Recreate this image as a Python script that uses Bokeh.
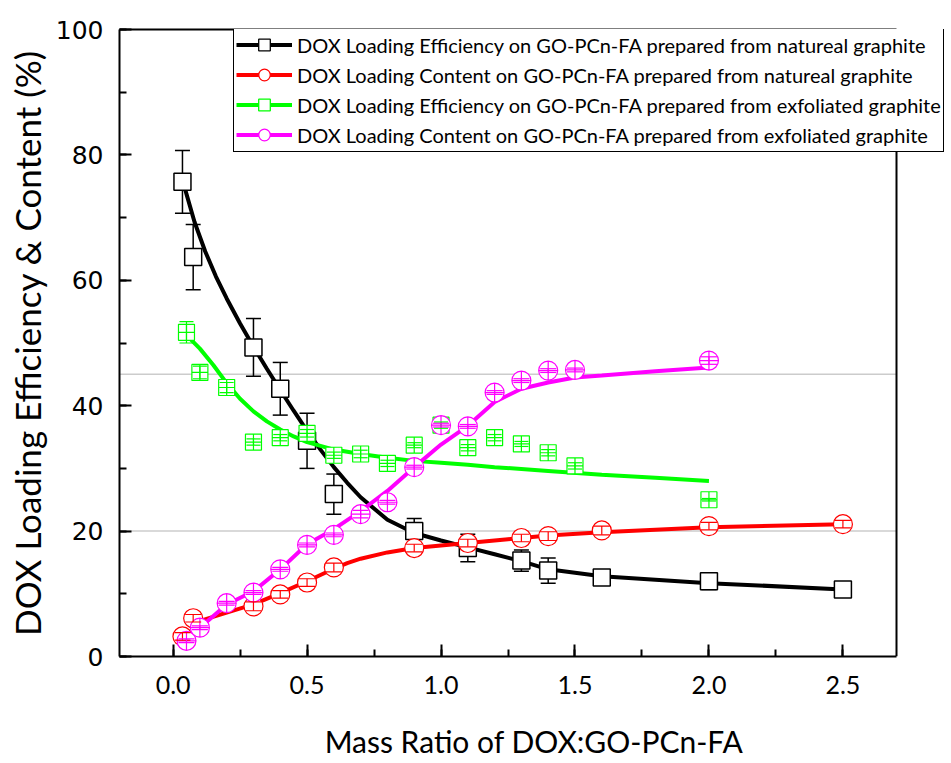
from bokeh.plotting import figure
from bokeh.models import (Range1d, Whisker, TeeHead, ColumnDataSource, Legend, Span,
                          LegendItem, SingleIntervalTicker, NumeralTickFormatter,
                          LinearAxis, FixedTicker)
from bokeh.embed import file_html
from bokeh.resources import INLINE

# ---------------- data ----------------
# DOX loading efficiency, natural graphite (black squares)
ne_x = [0.035, 0.075, 0.3, 0.4, 0.5, 0.6, 0.9, 1.1, 1.3, 1.4, 1.6, 2.0, 2.5]
ne_y = [75.7, 63.7, 49.3, 42.7, 34.4, 25.9, 20.0, 17.3, 15.3, 13.7, 12.6, 12.0, 10.7]
ne_err = [5.0, 5.2, 4.6, 4.2, 4.4, 3.2, 2.0, 2.2, 1.7, 2.0, 0.7, 1.3, 1.2]
ne_fit_x = [0.045, 0.08, 0.12, 0.16, 0.2, 0.25, 0.3, 0.35, 0.4, 0.45, 0.5, 0.55, 0.6,
            0.65, 0.7, 0.8, 0.9, 1.0, 1.1, 1.2, 1.3, 1.4, 1.6, 2.0, 2.5]
ne_fit_y = [74.5, 69.3, 64.6, 60.6, 57.1, 53.1, 49.4, 45.9, 42.5, 39.2, 36.0, 33.0, 30.2,
            27.7, 25.4, 21.8, 19.7, 18.5, 17.4, 16.3, 15.2, 13.9, 12.8, 11.7, 10.7]

# DOX loading content, natural graphite (red circles)
nc_x = [0.035, 0.075, 0.3, 0.4, 0.5, 0.6, 0.9, 1.1, 1.3, 1.4, 1.6, 2.0, 2.5]
nc_y = [3.2, 6.1, 8.0, 9.9, 11.8, 14.2, 17.3, 18.1, 18.9, 19.2, 20.1, 20.8, 21.1]
nc_err = [0.6, 0.6, 0.7, 0.6, 0.6, 0.7, 0.6, 0.6, 0.6, 0.7, 0.7, 0.6, 0.6]
nc_fit_x = [0.08, 0.2, 0.3, 0.4, 0.5, 0.6, 0.65, 0.7, 0.8, 0.9, 1.1, 1.25, 1.4, 1.6,
            2.0, 2.5]
nc_fit_y = [5.4, 7.0, 8.3, 10.1, 12.0, 14.0, 14.9, 15.6, 16.6, 17.3, 18.1, 18.7, 19.3,
            19.8, 20.6, 21.1]

# DOX loading efficiency, exfoliated graphite (green squares)
ee_x = [0.05, 0.1, 0.2, 0.3, 0.4, 0.5, 0.6, 0.7, 0.8, 0.9, 1.0, 1.1, 1.2, 1.3, 1.4, 1.5, 2.0]
ee_y = [51.7, 45.3, 42.9, 34.2, 34.9, 35.6, 32.1, 32.3, 30.8, 33.7, 36.9, 33.3, 34.9,
        33.9, 32.5, 30.4, 25.0]
ee_err = [1.7, 1.0, 0.8, 0.5, 0.5, 0.6, 0.5, 0.6, 0.5, 0.4, 0.5, 0.5, 0.5, 0.4, 0.5, 0.5, 0.2]
ee_fit_x = [0.063, 0.1, 0.15, 0.2, 0.25, 0.3, 0.35, 0.4, 0.45, 0.5, 0.6, 0.7, 0.8, 0.9,
            1.0, 1.1, 1.2, 1.4, 1.6, 1.8, 2.0]
ee_fit_y = [50.7, 49.1, 46.5, 43.6, 41.1, 39.1, 37.5, 36.2, 35.1, 34.2, 33.0, 32.3, 31.7,
            31.2, 30.9, 30.6, 30.2, 29.6, 29.0, 28.5, 28.0]

# DOX loading content, exfoliated graphite (magenta circles)
ec_x = [0.05, 0.1, 0.2, 0.3, 0.4, 0.5, 0.6, 0.7, 0.8, 0.9, 1.0, 1.1, 1.2, 1.3, 1.4, 1.5, 2.0]
ec_y = [2.5, 4.6, 8.5, 10.2, 13.9, 17.8, 19.4, 22.7, 24.6, 30.2, 36.9, 36.7, 42.1,
        44.0, 45.6, 45.7, 47.2]
ec_err = [0.3, 0.3, 0.3, 0.3, 0.3, 0.3, 0.3, 0.6, 0.3, 0.3, 0.3, 0.3, 0.3, 0.3, 0.3, 0.3, 0.6]
ec_fit_x = [0.1, 0.2, 0.3, 0.4, 0.5, 0.6, 0.7, 0.8, 0.9, 1.0, 1.1, 1.2, 1.3, 1.4, 1.5,
            1.6, 1.8, 2.0]
ec_fit_y = [4.6, 8.3, 10.4, 13.9, 17.9, 20.3, 23.2, 26.4, 30.2, 33.8, 36.8, 40.6, 42.7,
            43.7, 44.5, 44.8, 45.5, 46.1]

ref_lines = [20, 45]

labels = [
    "DOX Loading Efficiency on GO-PCn-FA prepared from natureal graphite",
    "DOX Loading Content on GO-PCn-FA prepared from natureal graphite",
    "DOX Loading Efficiency on GO-PCn-FA prepared from exfoliated graphite",
    "DOX Loading Content on GO-PCn-FA prepared from exfoliated graphite",
]
x_title = "Mass Ratio of DOX:GO-PCn-FA"
y_title = "DOX Loading Efficiency & Content (%)"

# ---------------- layout ----------------
X_LO, X_HI = -0.2, 2.7          # visible axis box
Y_LO, Y_HI = 0, 100
BOX_W, BOX_H = 777, 627          # pixel size of the axis box
LEFT, TOP = 119, 29
CANVAS_W, CANVAS_H = 948, 760
FRAME_W = CANVAS_W - LEFT        # frame extends right so the legend can overhang the box
x_end = X_LO + FRAME_W * (X_HI - X_LO) / BOX_W

p = figure(frame_width=FRAME_W, frame_height=BOX_H,
           min_border_left=LEFT, min_border_right=0, min_border_top=TOP,
           min_border_bottom=CANVAS_H - TOP - BOX_H,
           x_range=Range1d(X_LO, x_end), y_range=Range1d(Y_LO, Y_HI),
           output_backend="svg", toolbar_location=None)
p.grid.visible = False
p.outline_line_color = None
p.background_fill_color = "white"
p.border_fill_color = "white"

xa = p.xaxis[0]
ya = p.yaxis[0]
xa.ticker = SingleIntervalTicker(interval=0.5, num_minor_ticks=2)
ya.ticker = SingleIntervalTicker(interval=20, num_minor_ticks=2)
xa.formatter = NumeralTickFormatter(format="0.0")
xa.bounds = (X_LO, X_HI)
for ax in (xa, ya):
    ax.axis_line_width = 2
    ax.axis_line_color = "black"
    ax.major_tick_in = 12
    ax.major_tick_out = 0
    ax.minor_tick_in = 7
    ax.minor_tick_out = 0
    ax.major_tick_line_width = 2
    ax.minor_tick_line_width = 2
    ax.major_tick_line_color = "black"
    ax.minor_tick_line_color = "black"
    ax.major_label_text_color = "black"
    ax.axis_label_text_font = "Lato"
    ax.axis_label_text_font_style = "normal"
    ax.axis_label_text_color = "black"

xa.major_label_text_font = "Lato"
xa.major_label_text_font_size = "25px"
xa.major_label_standoff = 19
xa.axis_label = x_title
xa.axis_label_text_font_size = "30px"
xa.axis_label_standoff = 26

ya.major_label_text_font = "DejaVu Sans"
ya.major_label_text_font_size = "25px"
ya.major_label_standoff = 16
ya.axis_label = y_title
ya.axis_label_text_font_size = "35px"
ya.axis_label_standoff = 5

# top edge of the axis box
top_ax = LinearAxis(ticker=FixedTicker(ticks=[]), bounds=(X_LO, X_HI),
                    axis_line_width=2, axis_line_color="black",
                    major_tick_out=0, major_tick_in=0, minor_tick_out=0, minor_tick_in=0,
                    major_label_text_font_size="0px")
p.add_layout(top_ax, "above")
# right edge of the axis box
p.add_layout(Span(location=X_HI, dimension="height", line_color="black", line_width=2))

# light reference lines
p.segment(x0=[X_LO] * len(ref_lines), x1=[X_HI] * len(ref_lines), y0=ref_lines, y1=ref_lines,
          line_color="#cccccc", line_width=1.5, level="underlay")


def whisker(xs, ys, errs, color, cap, width, level):
    src = ColumnDataSource(dict(x=xs, lo=[a - b for a, b in zip(ys, errs)],
                                hi=[a + b for a, b in zip(ys, errs)]))
    w = Whisker(source=src, base="x", lower="lo", upper="hi", dimension="height",
                line_color=color, line_width=width, level=level,
                upper_head=TeeHead(size=cap, line_color=color, line_width=width),
                lower_head=TeeHead(size=cap, line_color=color, line_width=width))
    p.add_layout(w)


series = [
    (ne_x, ne_y, ne_err, ne_fit_x, ne_fit_y, "black", "square", "square", 17, 15, 1.5, "underlay"),
    (nc_x, nc_y, nc_err, nc_fit_x, nc_fit_y, "#ff0000", "circle", "circle", 19, 16, 1.2, "overlay"),
    (ee_x, ee_y, ee_err, ee_fit_x, ee_fit_y, "#00ff00", "square_cross", "square", 16, 14, 1.2, "overlay"),
    (ec_x, ec_y, ec_err, ec_fit_x, ec_fit_y, "#ff00ff", "circle_cross", "circle", 19, 16, 1.2, "overlay"),
]

items = []
nan = float("nan")
for (xs, ys, es, fx, fy, col, mk, lmk, sz, cap, lw, lvl), lab in zip(series, labels):
    ln = p.line(fx, fy, line_color=col, line_width=4)
    whisker(xs, ys, es, col, cap, lw, lvl)
    p.scatter(xs, ys, marker=mk, size=sz, fill_color="white", line_color=col, line_width=lw)
    # legend-only marker (plain symbol, nothing drawn in the plot)
    key = p.scatter(x=[nan], y=[nan], marker=lmk, size=sz, fill_color="white",
                    line_color=col, line_width=1.3)
    items.append(LegendItem(label=lab, renderers=[ln, key]))

legend = Legend(items=items, location=(233 - LEFT, BOX_H - 123),
                glyph_width=56, glyph_height=29, label_height=29, spacing=1,
                padding=2, margin=0, label_standoff=5,
                label_text_font="Lato", label_text_font_size="20px",
                label_text_color="black",
                border_line_color="black", border_line_width=1, border_line_alpha=1,
                background_fill_color="white", background_fill_alpha=1)
p.add_layout(legend)

open("out.html", "w").write(file_html(p, INLINE))
